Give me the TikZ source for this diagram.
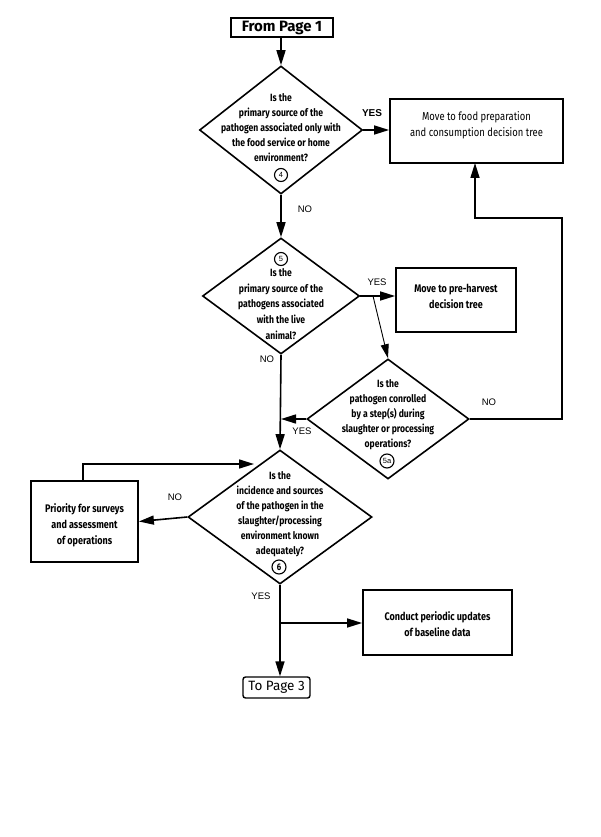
\documentclass[tikz,border=0pt]{standalone}
\usepackage{fontspec}
\setmainfont{Liberation Sans}
\newfontfamily\dfont{Fira Sans}[FakeStretch=0.82]
\newfontfamily\wfont{Fira Sans}
\usetikzlibrary{shapes.geometric,arrows.meta,calc}
\begin{document}
\begin{tikzpicture}[x=1pt,y=-1pt,
  every path/.style={line width=1.6pt},
  box/.style={draw,line width=1.8pt,rectangle,inner sep=0pt},
  dia/.style={draw,line width=1.6pt,diamond,inner sep=0pt},
  dtext/.style={align=center,font=\dfont\bfseries\fontsize{10.5}{15}\selectfont,inner sep=0pt},
  btext/.style={align=center,font=\dfont\bfseries\fontsize{11}{16}\selectfont,inner sep=0pt},
  lab/.style={font=\fontsize{9.5}{10}\selectfont,inner sep=0pt},
  num/.style={draw,circle,line width=1.1pt,inner sep=0pt,minimum size=13pt,font=\fontsize{7.5}{8}\selectfont},
  arr/.style={-{Triangle[length=15pt,width=9pt]}}
]
\useasboundingbox[fill=white] (0,0) rectangle (600,837);

% terminals
\node[box,minimum width=102pt,minimum height=19pt,font=\wfont\bfseries\fontsize{15}{16}\selectfont] (from) at (282,27.5) {From Page 1};
\node[box,rounded corners=2.5pt,line width=1.4pt,minimum width=67pt,minimum height=21pt,font=\wfont\fontsize{13.5}{14}\selectfont] (to3) at (276.5,687.5) {To Page 3};

% diamonds
\node[dia,minimum width=163pt,minimum height=128pt] (d4) at (281,130) {};
\node[dtext] (t4) at (281,128) {Is the\\primary source of the\\pathogen associated only with\\the food service or home\\environment?};
\node[num] (c4) at (281,175) {4};

\node[dia,minimum width=157pt,minimum height=116pt] (d5) at (281,296) {};
\node[dtext,font=\dfont\bfseries\fontsize{10.5}{15.7}\selectfont] (t5) at (281,304) {Is the\\primary source of the\\pathogens associated\\with the live\\animal?};
\node[num] (c5) at (281,259) {5};

\node[dia,minimum width=162pt,minimum height=120pt] (d5a) at (388,419) {};
\node[dtext] (t5a) at (388,415) {Is the\\pathogen conrolled\\by a step(s) during\\slaughter or processing\\operations?};
\node[num,minimum size=14pt] (c5a) at (387,461) {5a};

\node[dia,minimum width=184pt,minimum height=134pt] (d6) at (280,517) {};
\node[dtext] (t6) at (280,514) {Is the\\incidence and sources\\of the pathogen in the\\slaughter/processing\\environment known\\adequately?};
\node[num,minimum size=14pt,font=\dfont\bfseries\fontsize{9.5}{10}\selectfont] (c6) at (279,567) {6};

% boxes
\node[box,minimum width=173pt,minimum height=64pt] (b1) at (476.5,131) {};
\node[btext,font=\dfont\fontsize{11.5}{16}\selectfont] (tb1) at (476.5,125) {Move to food preparation\\and consumption decision tree};
\node[box,minimum width=120pt,minimum height=64pt] (b2) at (456,300) {};
\node[btext] (tb2) at (456,296) {Move to pre-harvest\\decision tree};
\node[box,minimum width=107pt,minimum height=81pt] (pr) at (84.5,521.5) {};
\node[btext] (tpr) at (84.5,525) {Priority for surveys\\and assessment\\of operations};
\node[box,minimum width=149pt,minimum height=65pt] (cd) at (437.5,622.5) {};
\node[btext] (tcd) at (437.5,624) {Conduct periodic updates\\of baseline data};

% labels
\node[lab,font=\bfseries\fontsize{10}{11}\selectfont] (ly1) at (372,113) {YES};
\node[lab] (ln1) at (305,209) {NO};
\node[lab] (ly2) at (377,282) {YES};
\node[lab] (ln2) at (267,359) {NO};
\node[lab] (ly3) at (302,431) {YES};
\node[lab] (ln3) at (489,402) {NO};
\node[lab] (ln4) at (175,497) {NO};
\node[lab] (ly4) at (261,596) {YES};

% coordinates
\coordinate (br) at (373,296);
\coordinate (r1) at (562,218);
\coordinate (b1in) at (475,163);
\coordinate (lp) at (254,464);
\coordinate (j) at (280,623);

% connectors
\draw[arr] (d4.north |- from.south) -- (d4.north);
\draw[arr] (d4.east) -- (d4.east -| b1.west);
\draw[arr] (d4.south) -- (d5.north);
\draw[arr] (d5.east) -- (d5.east -| b2.west);
\draw[-{Triangle[length=14pt,width=8pt]},line width=0.9pt] (br) -- (d5a.north);
\draw[arr] (d5.south) -- (d6.north);
\draw[arr] (d5a.west) -- (d5a.west -| d5.south);
\draw[arr] (d5a.east) -| (r1) -| (b1in);
\draw[arr] (d6.west) -- (pr.east);
\draw[arr] ($(pr.north)+(-1.5,0)$) |- (lp);
\draw[arr] (d6.south) -- (d6.south |- to3.north);
\draw[arr] (j) -- (j -| cd.west);
\end{tikzpicture}
\end{document}
